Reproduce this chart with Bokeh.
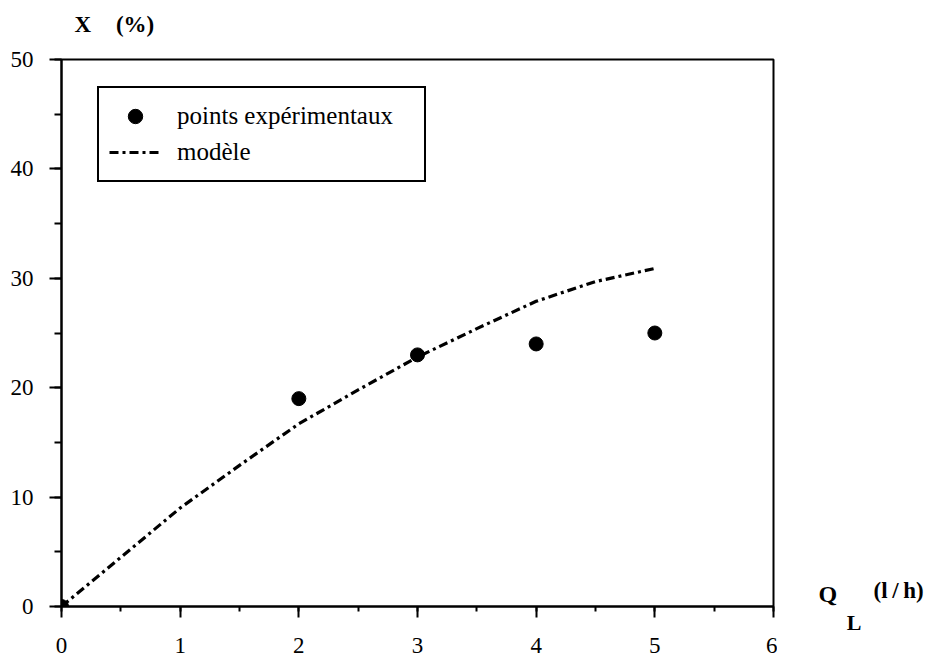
from bokeh.plotting import figure
from bokeh.layouts import row
from bokeh.models import (Range1d, SingleIntervalTicker, FixedTicker, Legend, LegendItem,
                          LinearAxis)
from bokeh.core.properties import value
from bokeh.embed import file_html
from bokeh.resources import INLINE

# data
exp_q = [0, 2, 3, 4, 5]
exp_x = [0, 19, 23, 24, 25]
model_q = [0, 0.5, 1, 1.5, 2, 2.5, 3, 3.5, 4, 4.5, 5]
model_x = [0, 4.5, 9.0, 12.9, 16.7, 19.8, 22.8, 25.4, 27.9, 29.7, 30.9]
x_ticks_interval = 1
y_ticks_interval = 10
y_title_parts = ["X", "(%)"]
x_title_parts = ["Q", "L", "(l\u2009/\u2009h)"]

SERIF = "Liberation Serif"

FRAME_W, FRAME_H = 712, 547
LEFT, TOP, BOTTOM, RIGHT = 61, 59, 50, 4

p = figure(frame_width=FRAME_W, frame_height=FRAME_H,
           min_border_left=LEFT, min_border_right=RIGHT,
           min_border_top=TOP, min_border_bottom=BOTTOM,
           x_range=Range1d(0, 6), y_range=Range1d(0, 50),
           title=None,
           output_backend="svg", toolbar_location=None,
           background_fill_color="white", border_fill_color="white")

p.grid.visible = False
p.outline_line_color = "black"
p.outline_line_width = 2

for ax in (p.xaxis[0], p.yaxis[0]):
    ax.axis_line_width = 2
    ax.major_tick_line_width = 2
    ax.minor_tick_line_width = 2
    ax.major_tick_in = 0
    ax.minor_tick_in = 0
    ax.major_label_text_font = SERIF
    ax.major_label_text_font_size = "23px"
    ax.major_label_text_color = "black"
    ax.axis_line_color = "black"
    ax.major_tick_line_color = "black"
    ax.minor_tick_line_color = "black"

p.xaxis[0].ticker = SingleIntervalTicker(interval=x_ticks_interval, num_minor_ticks=2)
p.yaxis[0].ticker = SingleIntervalTicker(interval=y_ticks_interval, num_minor_ticks=2)
p.xaxis[0].major_tick_out = 11
p.xaxis[0].minor_tick_out = 5
p.yaxis[0].major_tick_out = 12
p.yaxis[0].minor_tick_out = 7
p.xaxis[0].major_label_standoff = 20
p.yaxis[0].major_label_standoff = 16

# y-axis title "X   (%)" drawn as labels of a bare axis above the frame
y_title_pos = [0.18, 0.62]
top_axis = LinearAxis(ticker=FixedTicker(ticks=y_title_pos, minor_ticks=[]),
                      major_label_overrides={y_title_pos[0]: y_title_parts[0],
                                             y_title_pos[1]: y_title_parts[1]},
                      axis_line_color=None, major_tick_line_color=None,
                      minor_tick_line_color=None,
                      major_tick_out=0, major_tick_in=0,
                      major_label_standoff=23,
                      major_label_text_font=SERIF, major_label_text_font_style="bold",
                      major_label_text_font_size="23px", major_label_text_color="black")
p.add_layout(top_axis, "above")

line_r = p.line(model_q, model_x, line_color="black", line_width=3.2, line_dash="9 4 3 4")
pts_r = p.scatter(exp_q, exp_x, size=14, fill_color="black", line_color="black")

legend = Legend(items=[LegendItem(label="points expérimentaux", renderers=[pts_r]),
                       LegendItem(label="modèle", renderers=[line_r])],
                location=(36, 424),
                border_line_color="black", border_line_width=2, border_line_alpha=1.0,
                background_fill_alpha=1.0, background_fill_color="white",
                padding=10, spacing=0, margin=0,
                glyph_width=52, glyph_height=36, label_standoff=16,
                label_text_font=SERIF, label_text_font_size="25px",
                label_text_color="black", label_height=36, label_width=237)
p.add_layout(legend, "center")

# side panel carrying the x-axis title "Q_L (l/h)", same frame and scale as the plot
unit_x = FRAME_W / 6.0
side_w = 160
x0 = 6 + RIGHT / unit_x
x1 = x0 + side_w / unit_x

q = figure(frame_width=side_w, frame_height=FRAME_H,
           min_border_left=0, min_border_right=0,
           min_border_top=TOP, min_border_bottom=BOTTOM,
           title=None, x_axis_type=None, y_axis_type=None,
           x_range=Range1d(x0, x1), y_range=Range1d(0, 50),
           output_backend="svg", toolbar_location=None,
           background_fill_color="white", border_fill_color="white")
q.grid.visible = False
q.outline_line_color = None

sub_pos = [6.68]
sub_axis = LinearAxis(ticker=FixedTicker(ticks=sub_pos, minor_ticks=[]),
                      major_label_overrides={sub_pos[0]: x_title_parts[1]},
                      axis_line_color=None, major_tick_line_color=None,
                      minor_tick_line_color=None,
                      major_tick_out=0, major_tick_in=0,
                      major_label_standoff=3,
                      major_label_text_font=SERIF, major_label_text_font_style="bold",
                      major_label_text_font_size="22px", major_label_text_color="black")
q.add_layout(sub_axis, "below")

q.text(x=[6.379], y=[1.15], text=[x_title_parts[0]], text_font=value(SERIF),
       text_font_style="bold", text_font_size="24px", text_color="black",
       text_baseline="middle", text_align="left")
q.text(x=[6.843], y=[1.46], text=[x_title_parts[2]], text_font=value(SERIF),
       text_font_style="bold", text_font_size="23px", text_color="black",
       text_baseline="middle", text_align="left")

layout = row(p, q, spacing=0)
open("out.html", "w").write(file_html(layout, INLINE))
